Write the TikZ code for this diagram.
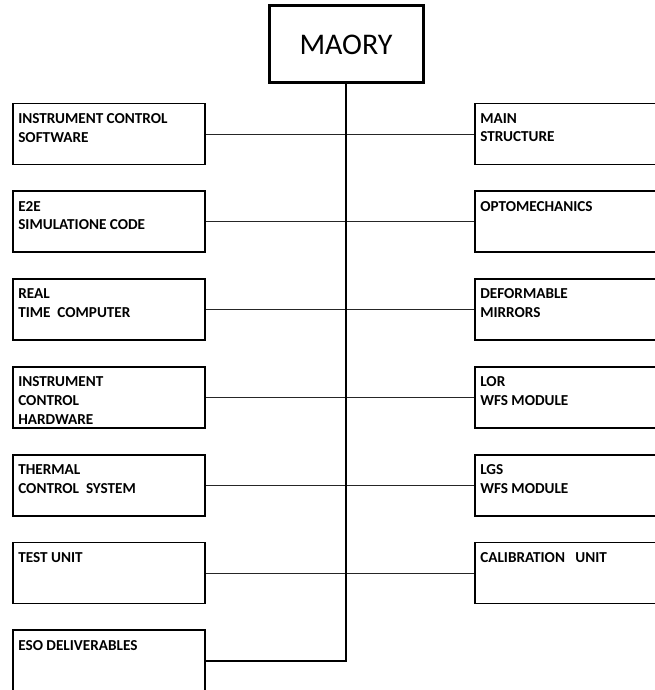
\documentclass[tikz,border=0pt]{standalone}
\usepackage{fontspec}
\setmainfont{Carlito}
\usetikzlibrary{calc}

\begin{document}
\begin{tikzpicture}[x=1pt,y=-1pt,
        top/.style={draw=black,rectangle,line width=3pt,minimum width=154pt,minimum height=77pt,inner sep=0pt,font=\fontsize{30}{36}\selectfont},
        box/.style={draw=black,rectangle,line width=1.8pt,minimum width=192pt,minimum height=61pt,inner sep=0pt},
        lbl/.style={anchor=north west,align=left,inner xsep=6pt,inner ysep=10.5pt,font=\fontsize{15.2}{18.8}\selectfont\bfseries},
        conn/.style={draw=black!85,line width=1pt},
        trunk/.style={draw=black,line width=1.4pt}
      ]
      \useasboundingbox (0,0) rectangle (655,690);
      \node[top] (maory) at (346,44.5) {MAORY};
      % left column
      \node[box] (ics) at (109,134) {};
      \node[box] (e2e) at (109,221.8) {};
      \node[box] (rtc) at (109,309.6) {};
      \node[box] (ich) at (109,397.4) {};
      \node[box] (tcs) at (109,485.2) {};
      \node[box] (test) at (109,573) {};
      \node[box] (eso) at (109,660.8) {};
      \node[lbl] (ics-t) at (ics.north west) {INSTRUMENT CONTROL\\SOFTWARE};
      \node[lbl] (e2e-t) at (e2e.north west) {E2E\\SIMULATIONE CODE};
      \node[lbl] (rtc-t) at (rtc.north west) {REAL\\TIME\ \ COMPUTER};
      \node[lbl] (ich-t) at (ich.north west) {INSTRUMENT\\CONTROL\\HARDWARE};
      \node[lbl] (tcs-t) at (tcs.north west) {THERMAL\\CONTROL\ \ SYSTEM};
      \node[lbl] (test-t) at (test.north west) {TEST UNIT};
      \node[lbl] (eso-t) at (eso.north west) {ESO DELIVERABLES};
      % right column
      \node[box] (ms) at (571,134) {};
      \node[box] (opto) at (571,221.8) {};
      \node[box] (dm) at (571,309.6) {};
      \node[box] (lor) at (571,397.4) {};
      \node[box] (lgs) at (571,485.2) {};
      \node[box] (cal) at (571,573) {};
      \node[lbl] (ms-t) at (ms.north west) {MAIN\\STRUCTURE};
      \node[lbl] (opto-t) at (opto.north west) {OPTOMECHANICS};
      \node[lbl] (dm-t) at (dm.north west) {DEFORMABLE\\MIRRORS};
      \node[lbl] (lor-t) at (lor.north west) {LOR\\WFS MODULE};
      \node[lbl] (lgs-t) at (lgs.north west) {LGS\\WFS MODULE};
      \node[lbl] (cal-t) at (cal.north west) {CALIBRATION\ \ \ UNIT};
      % connectors
      \draw[conn] (ics.east) -- (ms.west);
      \draw[conn] (e2e.east) -- (opto.west);
      \draw[conn] (rtc.east) -- (dm.west);
      \draw[conn] (ich.east) -- (lor.west);
      \draw[conn] (tcs.east) -- (lgs.west);
      \draw[conn] (test.east) -- (cal.west);
      \draw[trunk] (maory.south) |- (eso.east);
    \end{tikzpicture}
\end{document}
